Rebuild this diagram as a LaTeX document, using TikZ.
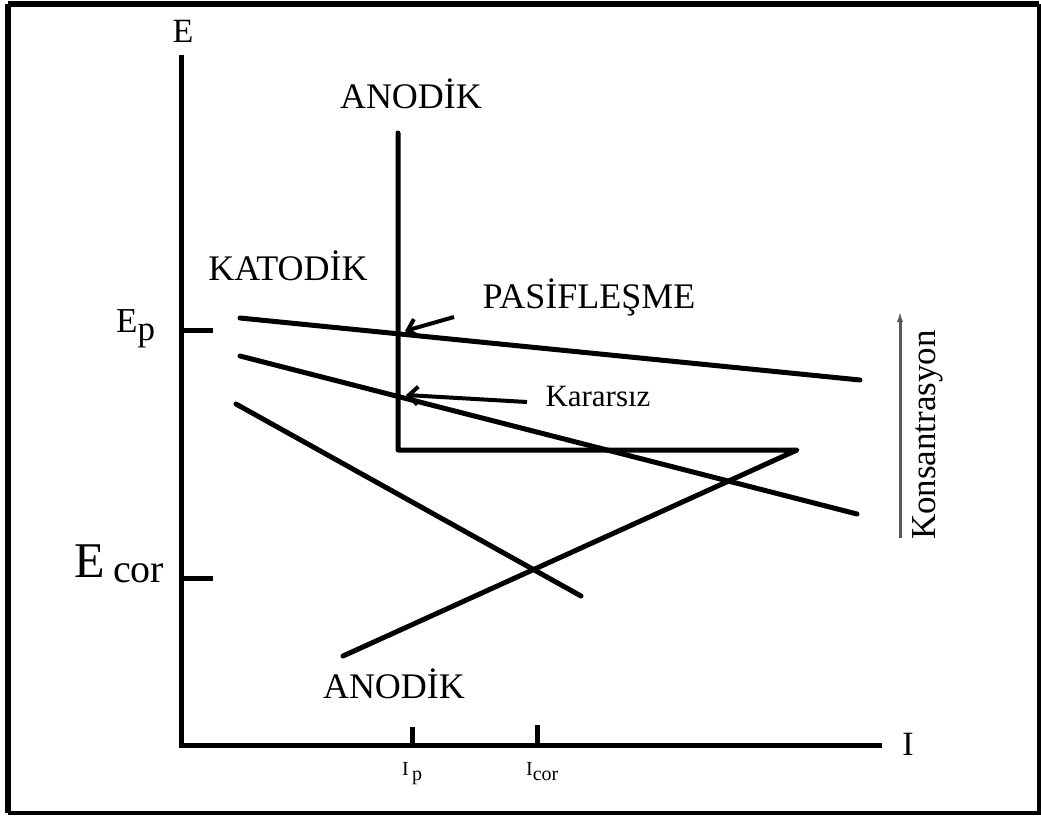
\documentclass[tikz,border=0pt]{standalone}
\usepackage{fontspec}
\setmainfont{Liberation Serif}
\usetikzlibrary{arrows.meta}
\begin{document}
\begin{tikzpicture}[x=1pt,y=-1pt,
  axisline/.style={line width=5pt},
  curveline/.style={line width=5pt,line join=round,line cap=round},
  pointer/.style={line width=4pt,-{Straight Barb[length=9pt,width=18pt,line width=4pt]}},
  bigtxt/.style={inner sep=0pt,anchor=base,font=\fontsize{36}{40}\selectfont},
  smalltxt/.style={inner sep=0pt,anchor=base,font=\fontsize{31}{34}\selectfont},
  ticklbl/.style={inner sep=0pt,anchor=base west}]
\useasboundingbox (0,0) rectangle (1041,816);
\fill[white] (0,0) rectangle (1041,816);
\draw[line width=6pt] (8,4) -- (1039,4);
\draw[line width=6pt] (8,4) -- (8,813);
\draw[line width=4pt] (8,813) -- (1039,813) -- (1039,4);
% axes
\coordinate (origin) at (181,745);
\coordinate (ytop) at (181,55);
\coordinate (xend) at (882,745);
\draw[axisline] (ytop) -- (origin) -- (xend);
\node[bigtxt,font=\fontsize{34}{36}\selectfont] (Elbl) at (183,43) {E};
\node[bigtxt,font=\fontsize{34}{36}\selectfont] (Ilbl) at (908,755) {I};
% ticks
\coordinate (ep0) at (181,330); \coordinate (ep1) at (213,330);
\coordinate (ec0) at (181,578); \coordinate (ec1) at (213,578);
\coordinate (ip0) at (412,745); \coordinate (ip1) at (412,727);
\coordinate (ic0) at (537,745); \coordinate (ic1) at (537,725);
\draw[axisline] (ep0) -- (ep1);
\draw[axisline] (ec0) -- (ec1);
\draw[axisline] (ip0) -- (ip1);
\draw[axisline] (ic0) -- (ic1);
\node[ticklbl] (Eplbl) at (116,332) {\fontsize{35}{38}\selectfont E\raisebox{-8pt}{p}};
\node[ticklbl] (Ecorlbl) at (74,577) {\fontsize{50}{54}\selectfont E\,\raisebox{-5pt}{\fontsize{40}{44}\selectfont cor}};
\node[ticklbl] (Iplbl) at (402,775) {\fontsize{20}{24}\selectfont I\,\raisebox{-5pt}{p}};
\node[ticklbl] (Icorlbl) at (526,775) {\fontsize{20}{24}\selectfont I\raisebox{-5pt}{cor}};
% anodic curve
\coordinate (a1) at (398,133);
\coordinate (a2) at (398,450);
\coordinate (a3) at (797,450);
\coordinate (a4) at (343,656);
\draw[curveline] (a1) -- (a2) -- (a3) -- (a4);
% cathodic lines
\coordinate (k1s) at (240,318); \coordinate (k1e) at (860,380);
\coordinate (k2s) at (240,356); \coordinate (k2e) at (857,514);
\coordinate (k3s) at (236,404); \coordinate (k3e) at (581,596);
\draw[curveline] (k1s) -- (k1e);
\draw[curveline] (k2s) -- (k2e);
\draw[curveline] (k3s) -- (k3e);
% labels
\node[bigtxt] (anodtop) at (411,108) {ANODİK};
\node[bigtxt] (katod) at (288,280) {KATODİK};
\node[bigtxt] (pasif) at (589,308) {PASİFLEŞME};
\node[bigtxt] (anodbot) at (394,698) {ANODİK};
\node[smalltxt] (karar) at (598,406) {Kararsız};
% pointers
\coordinate (p1s) at (454,317); \coordinate (p1e) at (405,331);
\coordinate (p2s) at (527,402); \coordinate (p2e) at (406,395);
\draw[pointer] (p1s) -- (p1e);
\draw[pointer] (p2s) -- (p2e);
% concentration arrow
\coordinate (c0) at (900,538);
\coordinate (c1) at (900,310);
\draw[line width=3pt,black!65,-{Latex[length=12pt,width=6pt]}] (c0) -- (c1);
\node[bigtxt,font=\fontsize{35}{38}\selectfont,rotate=90] (konsan) at (935,435) {Konsantrasyon};
\end{tikzpicture}
\end{document}
